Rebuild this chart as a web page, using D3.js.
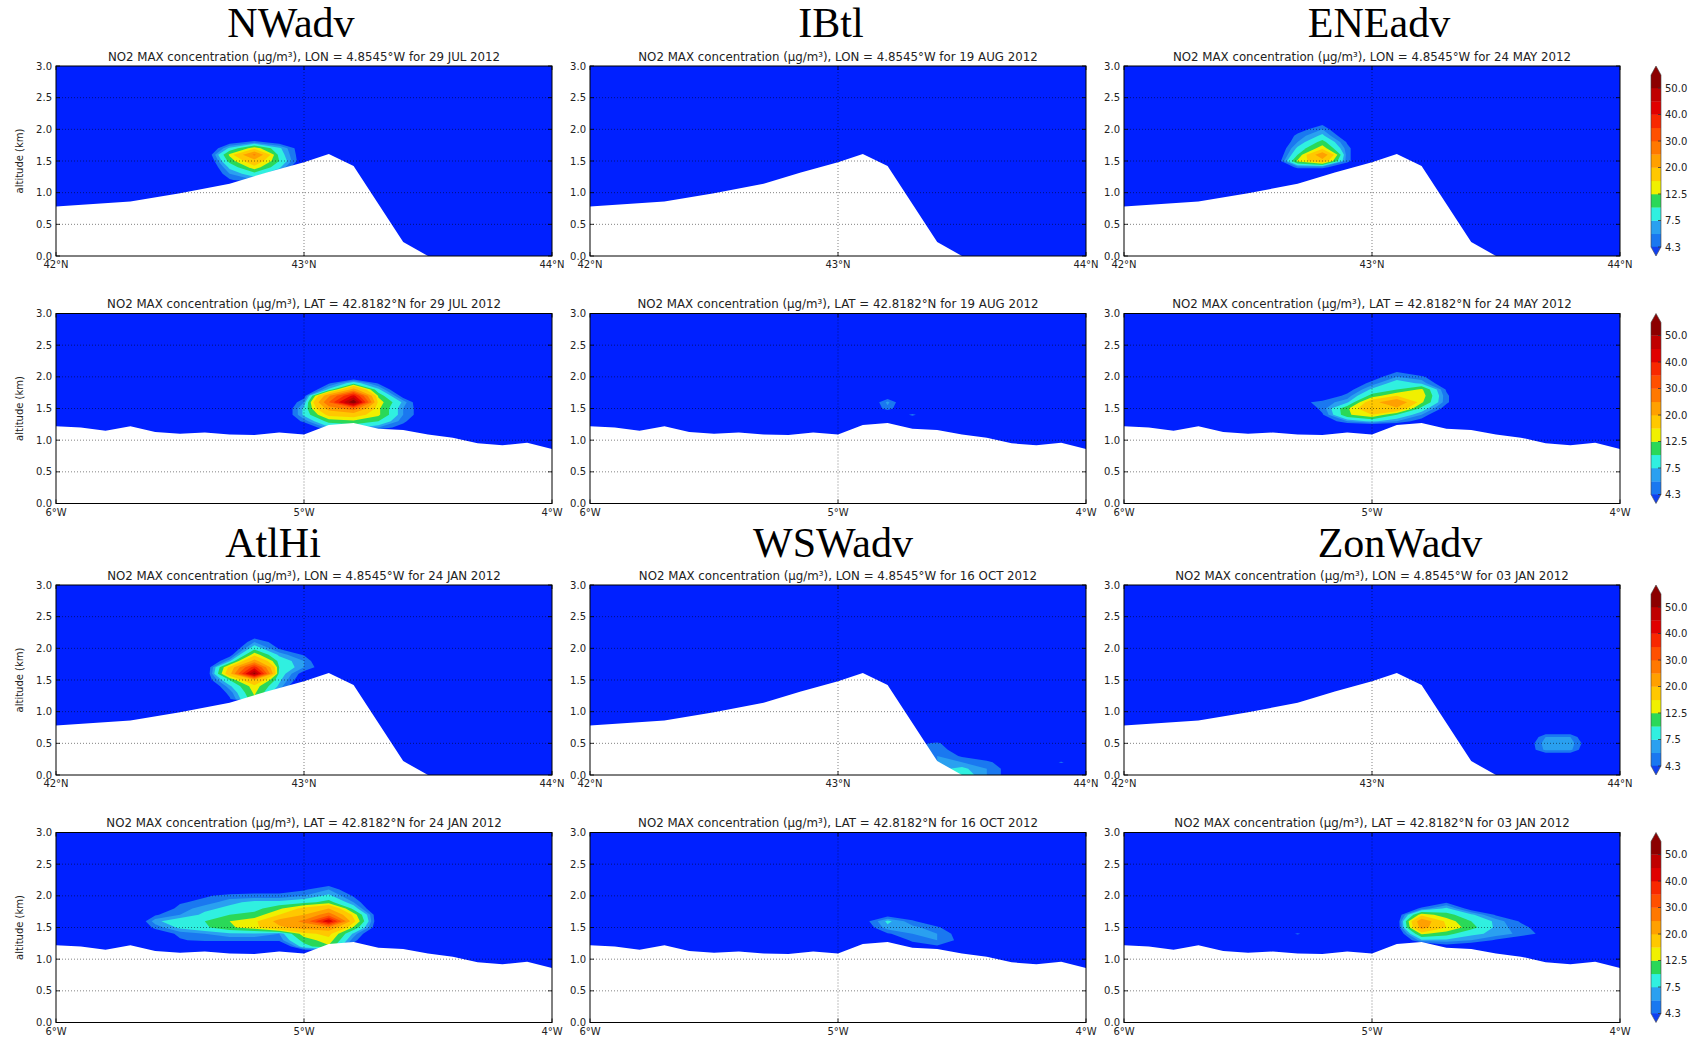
<!DOCTYPE html>
<html>
<head>
<meta charset="utf-8">
<script src="https://cdn.jsdelivr.net/npm/d3@7"></script>
<style>
  html, body { margin: 0; padding: 0; background: #ffffff; }
  svg { display: block; }
</style>
</head>
<body>
<svg id="chart" width="1695" height="1040"></svg>
<script>
// ---------------------------------------------------------------------------
// Data
// ---------------------------------------------------------------------------
const regimes = ["NWadv", "IBtl", "ENEadv", "AtlHi", "WSWadv", "ZonWadv"];
const regimeDates = ["29 JUL 2012", "19 AUG 2012", "24 MAY 2012",
                     "24 JAN 2012", "16 OCT 2012", "03 JAN 2012"];
const sectionLabels = ["LON = 4.8545°W", "LAT = 42.8182°N"];

const altTicks = [0, 0.5, 1.0, 1.5, 2.0, 2.5, 3.0];
const latTicks = [42, 43, 44];
const latTickLabels = ["42°N", "43°N", "44°N"];
const lonTicks = [-6, -5, -4];
const lonTickLabels = ["6°W", "5°W", "4°W"];

// NO2 contour levels (µg/m³) and the fill of each band above a level
const levels = [4.3, 6, 7.5, 10, 12.5, 15, 20, 25, 30, 35, 40, 45, 50];
const levelColors = ["#1a78f0", "#2aa0f0", "#30f0e0", "#2ad858", "#f0f000",
                     "#ffc800", "#ffa000", "#ff7800", "#ff5000", "#f82800",
                     "#e00000", "#c00000", "#8c0000"];
const underColor = "#0020ff";
const cbarUnderColor = "#1040f0";
const cbarTicks = [4.3, 7.5, 12.5, 20, 30, 40, 50];

// Ground height (km) along the meridional section at 4.8545°W
const lonSectionLat    = [42.0, 42.3, 42.5, 42.7, 42.85, 43.0, 43.1, 43.2, 43.4, 43.5, 44.0];
const lonSectionGround = [0.78, 0.86, 0.99, 1.14, 1.32, 1.48, 1.61, 1.42, 0.22, 0.0, 0.0];

// Ground height (km) along the zonal section at 42.8182°N
const latSectionLon    = [-6.0, -5.9, -5.8, -5.7, -5.6, -5.5, -5.4, -5.3, -5.2, -5.1, -5.0,
                          -4.9, -4.8, -4.7, -4.6, -4.5, -4.4, -4.3, -4.2, -4.1, -4.0];
const latSectionGround = [1.22, 1.20, 1.15, 1.22, 1.13, 1.10, 1.12, 1.09, 1.08, 1.12, 1.09,
                          1.24, 1.27, 1.18, 1.16, 1.09, 1.04, 0.95, 0.92, 0.96, 0.86];

// Plume patches: [first grid x (deg), top altitude (km), rows of NO2 values,
// top row first, on a 0.1 deg x 0.1 km grid]
const nwadvLon = [[42.6, 1.9, [
  [0, 0, 0, 0, 0],
  [0, 3, 5, 3, 0],
  [0, 8, 14, 8, 2],
  [1, 13, 26, 9, 2],
  [0, 11, 18, 10, 2],
  [0, 8, 14, 8, 0],
  [0, 6, 9, 5, 0],
  [0, 4, 6, 3, 0]]]];
const ibtlLon = [];
const eneadvLon = [[42.6, 2.1, [
  [0, 0, 3.5, 0, 0],
  [0, 3, 6, 0, 0],
  [0, 5, 8, 2, 0],
  [0, 6, 11, 4, 0],
  [0, 8, 14, 5, 0],
  [0, 10, 24, 5, 0],
  [0, 13, 18, 5, 0],
  [0, 5, 5, 2, 0],
  [0, 0, 0, 0, 0]]]];
const atlhiLon = [[42.5, 2.2, [
  [0, 0, 0, 3, 0, 0, 0],
  [0, 0, 0, 6, 3, 0, 0],
  [0, 0, 1, 9, 4, 0, 0],
  [0, 0, 3, 14, 7, 4, 0],
  [0, 0, 7, 22, 9, 6, 0],
  [0, 1, 16, 38, 10, 6, 2],
  [0, 1, 18, 52, 9, 3, 0],
  [0, 2, 10, 20, 8, 2, 0],
  [0, 0, 7, 14, 7, 0, 0],
  [0, 0, 5, 13, 5, 0, 0],
  [0, 0, 4, 12, 4, 0, 0]]]];
const wswadvLon = [[43.3, 0.6, [
  [0, 0, 0, 0, 0],
  [3, 5, 0, 0, 0],
  [4, 6, 2, 0, 0],
  [5, 6, 4, 2, 0],
  [5, 6, 6, 5, 2],
  [6, 7, 8, 6, 3],
  [6, 8, 9, 6, 3]]],
  [43.9, 0.2, [[4.8]]]];
const zonwadvLon = [[43.6, 0.7, [
  [0, 2, 2, 0],
  [0, 6, 6, 0],
  [1, 7, 7, 1],
  [1, 6.5, 6.5, 0],
  [0, 2, 2, 0]]]];

const nwadvLat = [[-5.1, 2.0, [
  [0, 0, 0, 1, 0, 0, 0],
  [0, 0, 4, 9, 4, 0, 0],
  [0, 0, 8, 22, 8, 0, 0],
  [0, 3, 24, 42, 12, 3, 0],
  [0, 6, 30, 55, 14, 7, 0],
  [0, 8, 22, 28, 13, 6, 2],
  [0, 8, 16, 17, 13, 6, 2],
  [0, 5, 11, 12, 10, 5, 0],
  [0, 1, 7, 8, 6, 3, 0]]]];
const ibtlLat = [[-4.8, 1.7, [
  [2, 0],
  [6.5, 0],
  [5.5, 0],
  [0, 5]]]];
const eneadvLat = [[-5.3, 2.1, [
  [0, 0, 0, 0, 3.8, 0, 0, 0],
  [0, 0, 0, 3, 6, 5, 0, 0],
  [0, 0, 2, 5, 9, 7, 2, 0],
  [0, 0, 3, 8, 10, 13, 4, 0],
  [0, 2, 5, 11, 15, 14, 4.8, 0],
  [3.5, 5, 7, 18, 25, 13, 4.8, 0],
  [1, 5, 12, 19, 19, 9, 3, 0],
  [0, 4, 12, 15, 10, 6, 0, 0],
  [0, 2, 6, 8, 6, 3, 0, 0]]]];
const atlhiLat = [[-5.7, 2.2, [
  [0, 0, 0, 0, 0, 0, 0, 0, 3, 0, 0],
  [0, 0, 0, 0, 2, 3, 3, 4, 6, 2, 0],
  [0, 0, 2, 4, 5, 5, 5, 6, 8, 4, 0],
  [0, 0, 4, 5, 7, 8, 8, 9, 11, 6, 0],
  [0, 2, 5, 7, 8, 9, 12, 16, 20, 9, 0],
  [0, 4, 6, 8, 10, 11, 15, 20, 28, 14, 2],
  [0, 7, 9, 10, 12.5, 14, 22, 26, 45, 16, 2],
  [0, 5, 8, 9.5, 12, 14, 19, 22, 24, 12, 2],
  [0, 2, 5, 6, 7, 7, 6, 14, 16, 7, 0],
  [0, 0, 4, 5, 5, 5, 5, 11, 14, 5, 0],
  [0, 0, 0, 0, 0, 0, 0, 9, 12, 3, 0]]]];
const wswadvLat = [[-4.9, 1.7, [
  [0, 3, 0, 0, 0, 0],
  [3, 8, 5, 0, 0, 0],
  [2, 7, 6.5, 5, 0, 0],
  [0, 4, 6, 6, 3, 0],
  [0, 0, 5, 6, 3.5, 0],
  [0, 0, 2, 4, 3, 0]]]];
const zonwadvLat = [[-5.0, 1.9, [
  [0, 0, 0, 4, 0, 0, 0, 0],
  [0, 0, 5, 8, 3, 0, 0, 0],
  [0, 2, 14, 11, 8, 4, 2, 0],
  [0, 2, 24, 14, 10, 7, 4, 0],
  [0, 2, 22, 15, 11, 7, 5, 3],
  [0, 1, 13, 11, 8, 7, 5.5, 3.5],
  [0, 0, 7, 7, 6, 4, 2, 0],
  [0, 0, 0, 3, 2, 0, 0, 0]]],
  [-5.3, 1.4, [[4.8]]]];

const lonSectionPlumes = [nwadvLon, ibtlLon, eneadvLon, atlhiLon, wswadvLon, zonwadvLon];
const latSectionPlumes = [nwadvLat, ibtlLat, eneadvLat, atlhiLat, wswadvLat, zonwadvLat];

// ---------------------------------------------------------------------------
// Layout
// ---------------------------------------------------------------------------
const colLeft = [56, 590, 1124];
const rowTop = [66, 313.5, 585, 832.5];
const plotW = 496, plotH = 190;
const titleX = [[291, 831, 1379], [273, 833, 1400]];
const titleBaseline = [37, 557];
const cbarX = 1651, cbarW = 10;
const cbarTopExt = 22, cbarTip = 9, cbarBottomExt = 9;

const nx = 21, ny = 31, gridStep = 0.1, altMax = 3.0;

const svg = d3.select("#chart");
const defs = svg.append("defs");

function buildField(xMin, patches) {
  const values = new Array(nx * ny).fill(0);
  patches.forEach(([x0, a0, rows]) => {
    const i0 = Math.round((x0 - xMin) / gridStep);
    const j0 = Math.round((altMax - a0) / gridStep);
    rows.forEach((row, r) => row.forEach((v, c) => {
      values[(j0 + r) * nx + i0 + c] = v;
    }));
  });
  return values;
}

const contourGen = d3.contours().size([nx, ny]).thresholds(levels);

for (let r = 0; r < 4; r++) {
  for (let c = 0; c < 3; c++) {
    const kind = r % 2;                      // 0: meridional, 1: zonal
    const ri = (r < 2 ? 0 : 3) + c;
    const left = colLeft[c], top = rowTop[r];
    const xDomain = kind === 0 ? [42, 44] : [-6, -4];
    const x = d3.scaleLinear().domain(xDomain).range([0, plotW]);
    const y = d3.scaleLinear().domain([0, altMax]).range([plotH, 0]);
    const g = svg.append("g").attr("transform", `translate(${left},${top})`);
    const clipId = `clip-${r}-${c}`;
    defs.append("clipPath").attr("id", clipId)
      .append("rect").attr("width", plotW).attr("height", plotH);
    const plot = g.append("g").attr("clip-path", `url(#${clipId})`);

    plot.append("rect").attr("width", plotW).attr("height", plotH).attr("fill", underColor);

    // filled concentration bands
    const xMin = xDomain[0];
    const field = buildField(xMin, kind === 0 ? lonSectionPlumes[ri] : latSectionPlumes[ri]);
    const proj = d3.geoTransform({
      point: function (gx, gy) {
        this.stream.point(x(xMin + (gx - 0.5) * gridStep), y(altMax - (gy - 0.5) * gridStep));
      }
    });
    const path = d3.geoPath(proj);
    plot.append("g").selectAll("path")
      .data(contourGen(field))
      .join("path")
      .attr("d", path)
      .attr("fill", (d, i) => levelColors[i]);

    // ground (masked, drawn white)
    const gx = kind === 0 ? lonSectionLat : latSectionLon;
    const gz = kind === 0 ? lonSectionGround : latSectionGround;
    const ground = gx.map((v, i) => [v, gz[i]]);
    plot.append("path")
      .datum(ground)
      .attr("d", d3.area().x(d => x(d[0])).y0(plotH).y1(d => y(d[1])))
      .attr("fill", "#ffffff");

    // dotted grid
    const xt = kind === 0 ? latTicks : lonTicks;
    const xtl = kind === 0 ? latTickLabels : lonTickLabels;
    plot.append("g").selectAll("line.gx")
      .data(xt.slice(1, -1)).join("line")
      .attr("x1", d => x(d)).attr("x2", d => x(d))
      .attr("y1", 0).attr("y2", plotH)
      .attr("stroke", "#000").attr("stroke-opacity", 0.55)
      .attr("stroke-width", 0.9).attr("stroke-dasharray", "1,2");
    plot.append("g").selectAll("line.gy")
      .data(altTicks.slice(1, -1)).join("line")
      .attr("y1", d => y(d)).attr("y2", d => y(d))
      .attr("x1", 0).attr("x2", plotW)
      .attr("stroke", "#000").attr("stroke-opacity", 0.55)
      .attr("stroke-width", 0.9).attr("stroke-dasharray", "1,2");

    // inward ticks on all four sides
    const ticks = g.append("g").attr("stroke", "#000").attr("stroke-width", 0.8);
    altTicks.forEach(t => {
      ticks.append("line").attr("x1", 0).attr("x2", 4).attr("y1", y(t)).attr("y2", y(t));
      ticks.append("line").attr("x1", plotW - 4).attr("x2", plotW).attr("y1", y(t)).attr("y2", y(t));
    });
    xt.forEach(t => {
      ticks.append("line").attr("y1", plotH).attr("y2", plotH - 4).attr("x1", x(t)).attr("x2", x(t));
      ticks.append("line").attr("y1", 0).attr("y2", 4).attr("x1", x(t)).attr("x2", x(t));
    });

    // frame
    g.append("rect").attr("width", plotW).attr("height", plotH)
      .attr("fill", "none").attr("stroke", "#000").attr("stroke-width", 1);

    // tick labels
    g.append("g").selectAll("text")
      .data(altTicks).join("text")
      .attr("x", -4).attr("y", d => y(d)).attr("dy", "0.35em")
      .attr("text-anchor", "end")
      .attr("font-family", "DejaVu Sans, sans-serif").attr("font-size", 10)
      .attr("fill", "#222")
      .text(d => d.toFixed(1));
    g.append("g").selectAll("text")
      .data(xt).join("text")
      .attr("x", d => x(d)).attr("y", plotH + 12)
      .attr("text-anchor", "middle")
      .attr("font-family", "DejaVu Sans, sans-serif").attr("font-size", 10)
      .attr("fill", "#222")
      .text((d, i) => xtl[i]);

    if (c === 0) {
      g.append("text")
        .attr("transform", `translate(${-33},${plotH / 2}) rotate(-90)`)
        .attr("text-anchor", "middle")
        .attr("font-family", "DejaVu Sans, sans-serif").attr("font-size", 10)
        .attr("fill", "#222")
        .text("altitude (km)");
    }

    // panel subtitle
    g.append("text")
      .attr("x", plotW / 2).attr("y", -5.5)
      .attr("text-anchor", "middle")
      .attr("font-family", "DejaVu Sans, sans-serif").attr("font-size", 11.8)
      .attr("fill", "#222")
      .text(`NO2 MAX concentration (µg/m³), ${sectionLabels[kind]} for ${regimeDates[ri]}`);

    // regime title above the upper panel of each pair
    if (kind === 0) {
      svg.append("text")
        .attr("x", titleX[r / 2][c]).attr("y", titleBaseline[r / 2])
        .attr("text-anchor", "middle")
        .attr("font-family", "Liberation Serif, Times New Roman, serif")
        .attr("font-size", 42)
        .attr("fill", "#000")
        .text(regimes[ri]);
    }
  }

  // colour bar for this row
  const top = rowTop[r];
  const cb = svg.append("g").attr("transform", `translate(${cbarX},${top})`);
  const nb = levels.length - 1;
  const yb = d3.scaleLinear().domain([0, nb]).range([plotH - cbarBottomExt, cbarTopExt]);
  d3.range(nb).forEach(i => {
    cb.append("rect")
      .attr("x", 0).attr("width", cbarW)
      .attr("y", yb(i + 1)).attr("height", yb(i) - yb(i + 1) + 0.3)
      .attr("fill", levelColors[i]);
  });
  const outline = `M0,${yb(0)}L${cbarW / 2},${plotH}L${cbarW},${yb(0)}` +
                  `L${cbarW},${cbarTip}L${cbarW / 2},0L0,${cbarTip}Z`;
  cb.append("path")
    .attr("d", `M0,${yb(0) - 0.3}L${cbarW},${yb(0) - 0.3}L${cbarW / 2},${plotH}Z`)
    .attr("fill", cbarUnderColor);
  cb.append("path")
    .attr("d", `M0,${yb(nb) + 0.3}L${cbarW},${yb(nb) + 0.3}L${cbarW},${cbarTip}L${cbarW / 2},0L0,${cbarTip}Z`)
    .attr("fill", levelColors[nb]);
  cb.append("path")
    .attr("d", outline)
    .attr("fill", "none").attr("stroke", "#444").attr("stroke-width", 0.6);
  cbarTicks.forEach(t => {
    const yy = yb(levels.indexOf(t));
    cb.append("line").attr("x1", cbarW - 3).attr("x2", cbarW).attr("y1", yy).attr("y2", yy)
      .attr("stroke", "#333").attr("stroke-width", 0.8);
    cb.append("text")
      .attr("x", cbarW + 4).attr("y", yy).attr("dy", "0.35em")
      .attr("font-family", "DejaVu Sans, sans-serif").attr("font-size", 10)
      .attr("fill", "#222")
      .text(t.toFixed(1));
  });
}
</script>
</body>
</html>
